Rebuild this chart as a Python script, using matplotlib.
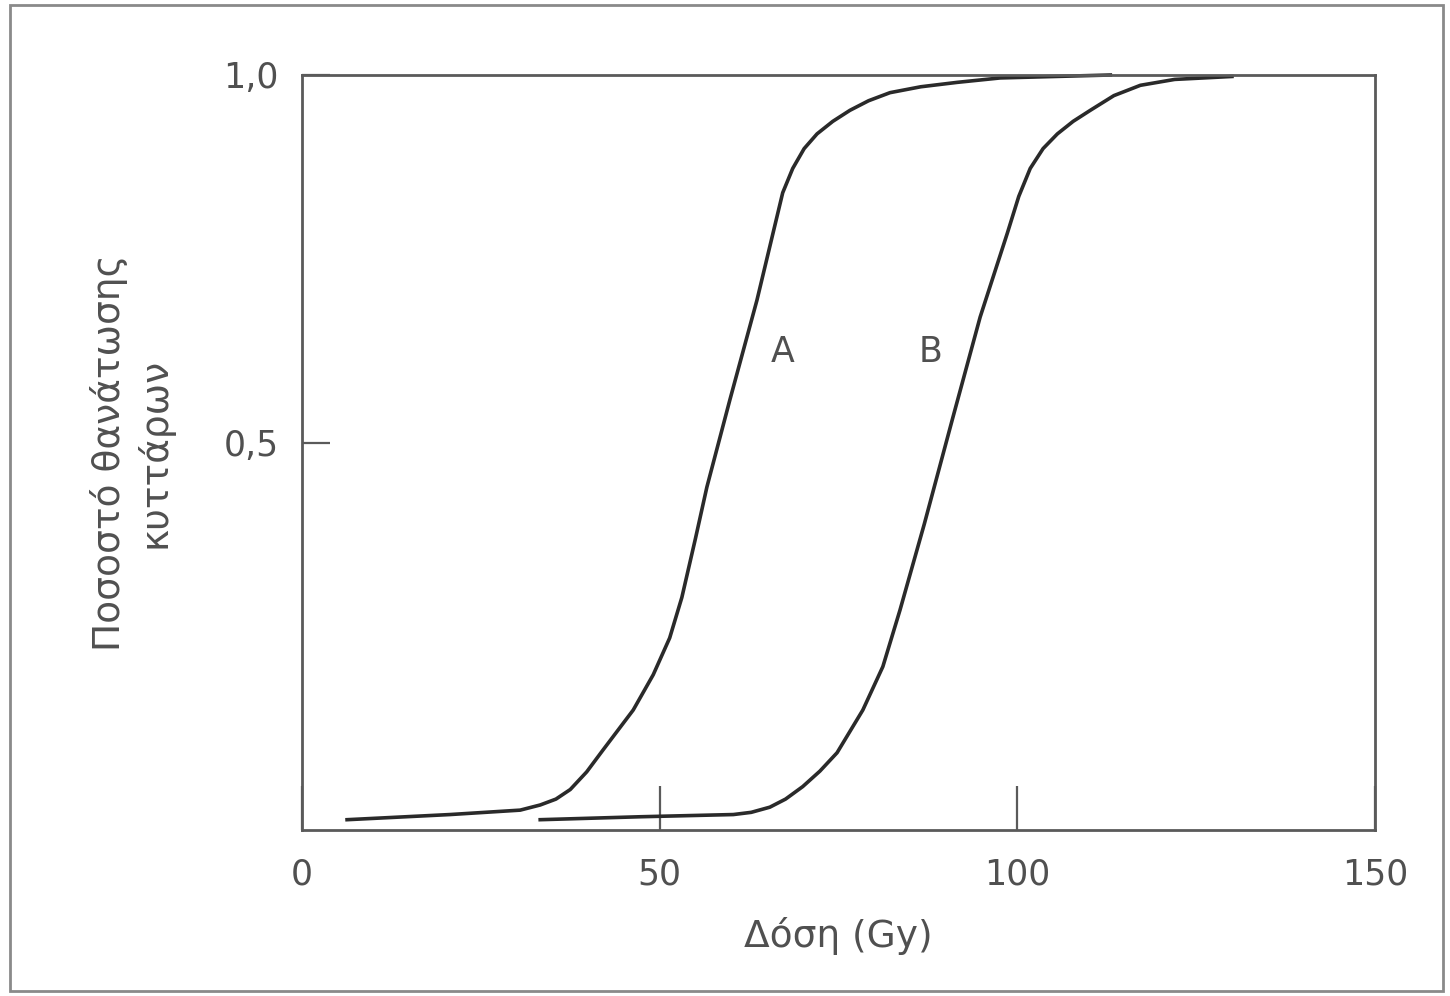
import matplotlib
matplotlib.use("Agg")
import matplotlib.pyplot as plt
from matplotlib.patches import Rectangle

# curve A (dose in Gy, fraction of cells killed)
dose_a = [6.3, 20.7, 30.5, 33.3, 35.5, 37.5, 39.8, 42.1, 46.3, 49.1, 51.4, 53.1, 55.0,
          56.6, 59.8, 63.6, 67.2, 68.6, 70.2, 72.0, 74.2, 76.6, 79.2, 82.2, 86.5,
          91.6, 97.6, 113.0]
frac_a = [-0.012, -0.005, 0.001, 0.008, 0.016, 0.029, 0.053, 0.083, 0.137, 0.185, 0.235,
          0.29, 0.37, 0.440, 0.558, 0.694, 0.840, 0.873, 0.900, 0.920, 0.937, 0.952,
          0.965, 0.976, 0.984, 0.990, 0.996, 1.0]

# curve B
dose_b = [33.3, 47.3, 60.3, 62.8, 65.4, 67.6, 70.0, 72.4, 74.8, 78.4, 81.2, 83.6,
          87.0, 91.0, 94.8, 98.6, 100.2, 101.8, 103.6, 105.6, 107.8, 110.2, 113.5,
          117.2, 122.0, 130.0]
frac_b = [-0.012, -0.008, -0.005, -0.002, 0.005, 0.016, 0.033, 0.054, 0.079, 0.137,
          0.196, 0.273, 0.39, 0.535, 0.671, 0.785, 0.835, 0.873, 0.900, 0.920, 0.937,
          0.952, 0.972, 0.986, 0.994, 0.998]

xticks = [0, 50, 100, 150]
xtick_labels = ["0", "50", "100", "150"]
yticks = [0.5, 1.0]
ytick_labels = ["0,5", "1,0"]

curve_labels = ["A", "B"]
label_x = [67.2, 87.8]
label_y = [0.624, 0.624]

plt.rcParams['font.family'] = ['DejaVu Sans']
txt = '#505050'
edge = '#5a5a5a'
fs = 25

fig = plt.figure(figsize=(14.5, 9.96), dpi=100)
ax = fig.add_axes([302/1450, 1 - 830/996, (1375 - 302)/1450, (830 - 75)/996])

ax.plot(dose_a, frac_a, color='#2a2a2a', lw=2.6, clip_on=False)
ax.plot(dose_b, frac_b, color='#2a2a2a', lw=2.6, clip_on=False)

for lab, lx, ly in zip(curve_labels, label_x, label_y):
    ax.text(lx, ly, lab, fontsize=fs, color=txt, ha='center', va='center')

ax.set_xlim(0, 150)
ax.set_ylim(-0.026, 1.0)

ax.set_xticks(xticks)
ax.set_xticklabels(xtick_labels)
ax.set_yticks(yticks)
ax.set_yticklabels(ytick_labels)
ax.tick_params(axis='x', direction='in', length=32, width=1.6, color=edge,
               pad=20, labelsize=fs, labelcolor=txt)
ax.tick_params(axis='y', direction='in', length=20, width=1.6, color=edge,
               pad=17, labelsize=fs, labelcolor=txt)

for s in ax.spines.values():
    s.set_color(edge)
    s.set_linewidth(2)

ax.set_xlabel("Δόση (Gy)", fontsize=27, color=txt, labelpad=18)
ax.set_ylabel("Ποσοστό θανάτωσης\nκυττάρων", fontsize=27, color=txt,
              labelpad=36, linespacing=1.25)

# frame round the whole picture
fig.patches.append(Rectangle((10/1450, 5/996), 1433/1450, 986/996,
                             transform=fig.transFigure, fill=False,
                             edgecolor='#8a8a8a', lw=2))

fig.savefig("out.png", dpi=100)
